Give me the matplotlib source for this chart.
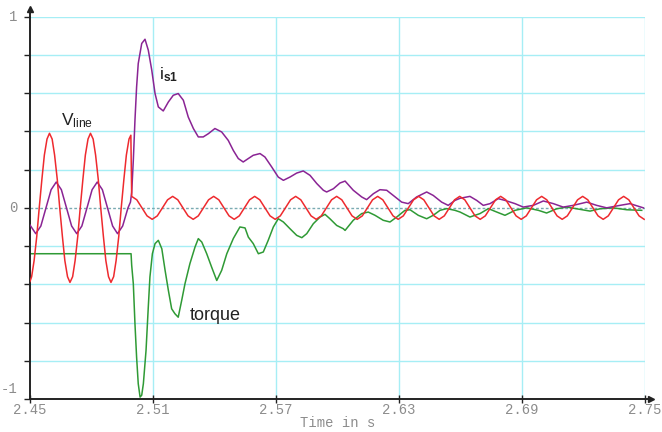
import numpy as np
import matplotlib.pyplot as plt

plt.rcParams['mathtext.fontset'] = 'custom'
plt.rcParams['mathtext.rm'] = 'Liberation Sans'
plt.rcParams['mathtext.it'] = 'Liberation Sans'
plt.rcParams['mathtext.bf'] = 'Liberation Sans:bold'

# line voltage before the fault (s, p.u.)
t_vline_pre = [2.4500, 2.4508, 2.4520, 2.4533, 2.4545, 2.4558, 2.4570, 2.4583, 2.4595,
               2.4608, 2.4620, 2.4633, 2.4645, 2.4658, 2.4670, 2.4683, 2.4695,
               2.4708, 2.4720, 2.4733, 2.4745, 2.4758, 2.4770, 2.4783, 2.4795,
               2.4808, 2.4820, 2.4833, 2.4845, 2.4858, 2.4870, 2.4883, 2.4895,
               2.4908, 2.4920, 2.4933, 2.4945, 2.4958, 2.4970, 2.4983, 2.4992]
v_vline_pre = [-0.385, -0.36, -0.276, -0.149, 0.0, 0.149, 0.276, 0.36, 0.39,
               0.36, 0.276, 0.149, 0.0, -0.149, -0.276, -0.36, -0.39,
               -0.36, -0.276, -0.149, 0.0, 0.149, 0.276, 0.36, 0.39,
               0.36, 0.276, 0.149, 0.0, -0.149, -0.276, -0.36, -0.39,
               -0.36, -0.276, -0.149, 0.0, 0.149, 0.276, 0.36, 0.38]

# line voltage after the fault, read every 2.5 ms from 2.4996 s
v_vline_post = [0.06, 0.042, 0.0, -0.042, -0.06, -0.042, 0.0, 0.042,
                0.06, 0.042, 0.0, -0.042, -0.06, -0.042, 0.0, 0.042,
                0.06, 0.042, 0.0, -0.042, -0.06, -0.042, 0.0, 0.042,
                0.06, 0.042, 0.0, -0.042, -0.06, -0.042, 0.0, 0.042,
                0.06, 0.042, 0.0, -0.042, -0.06, -0.042, 0.0, 0.042,
                0.06, 0.042, 0.0, -0.042, -0.06, -0.042, 0.0, 0.042,
                0.06, 0.042, 0.0, -0.042, -0.06, -0.042, 0.0, 0.042,
                0.06, 0.042, 0.0, -0.042, -0.06, -0.042, 0.0, 0.042,
                0.06, 0.042, 0.0, -0.042, -0.06, -0.042, 0.0, 0.042,
                0.06, 0.042, 0.0, -0.042, -0.06, -0.042, 0.0, 0.042,
                0.06, 0.042, 0.0, -0.042, -0.06, -0.042, 0.0, 0.042,
                0.06, 0.042, 0.0, -0.042, -0.06, -0.042, 0.0, 0.042,
                0.06, 0.042, 0.0, -0.042, -0.06]
t_vline_post = 2.4996 + 0.0025 * np.arange(len(v_vline_post))

# stator current is1
t_is1 = [2.4500, 2.4528, 2.4553, 2.4578, 2.4603, 2.4628, 2.4653, 2.4678, 2.4703, 2.4728,
         2.4753, 2.4778, 2.4803, 2.4828, 2.4853, 2.4878, 2.4903, 2.4927, 2.4952, 2.4978,
         2.4990, 2.4996, 2.5004, 2.5012, 2.5020, 2.5028, 2.5045, 2.5061, 2.5077, 2.5094,
         2.5110, 2.5126, 2.5150, 2.5175, 2.5199, 2.5223, 2.5248, 2.5272, 2.5297, 2.5321,
         2.5345, 2.5370, 2.5402, 2.5435, 2.5467, 2.5492, 2.5516, 2.5540, 2.5565, 2.5589,
         2.5622, 2.5646, 2.5679, 2.5711, 2.5736, 2.5768, 2.5801, 2.5833, 2.5866, 2.5899,
         2.5931, 2.5947, 2.5980, 2.6012, 2.6037, 2.6077, 2.6118, 2.6142, 2.6175, 2.6207,
         2.6240, 2.6272, 2.6313, 2.6345, 2.6386, 2.6435, 2.6467, 2.6508, 2.6540, 2.6573,
         2.6598, 2.6646, 2.6679, 2.6711, 2.6744, 2.6784, 2.6817, 2.6866, 2.6906, 2.6955,
         2.7004, 2.7053, 2.7101, 2.7150, 2.7216, 2.7264, 2.7313, 2.7378, 2.7427, 2.7492]
v_is1 = [-0.09, -0.135, -0.095, 0.0, 0.095, 0.135, 0.095, 0.0, -0.095, -0.135,
         -0.095, 0.0, 0.095, 0.135, 0.095, 0.0, -0.095, -0.135, -0.095, 0.0,
         0.03, 0.08, 0.249, 0.458, 0.632, 0.755, 0.86, 0.882, 0.825, 0.72,
         0.598, 0.528, 0.507, 0.554, 0.589, 0.598, 0.563, 0.475, 0.415, 0.371,
         0.371, 0.388, 0.415, 0.397, 0.353, 0.30, 0.258, 0.24, 0.258, 0.275,
         0.284, 0.266, 0.214, 0.161, 0.144, 0.161, 0.182, 0.193, 0.170, 0.127,
         0.092, 0.083, 0.10, 0.13, 0.14, 0.092, 0.057, 0.043, 0.074, 0.095,
         0.092, 0.065, 0.030, 0.022, 0.057, 0.083, 0.065, 0.03, 0.013, 0.039,
         0.05, 0.06, 0.039, 0.013, 0.022, 0.048, 0.039, 0.022, 0.004, 0.013,
         0.036, 0.022, 0.004, 0.013, 0.03, 0.013, 0.0, 0.013, 0.022, 0.0]

# electromagnetic torque
t_torque = [2.4500, 2.4993, 2.4996, 2.5004, 2.5012, 2.5020, 2.5028, 2.5037, 2.5045, 2.5053,
            2.5066, 2.5077, 2.5085, 2.5097, 2.5110, 2.5126, 2.5143, 2.5159, 2.5175, 2.5191,
            2.5207, 2.5223, 2.5240, 2.5256, 2.5280, 2.5305, 2.5321, 2.5338, 2.5362, 2.5386,
            2.5411, 2.5435, 2.5460, 2.5492, 2.5524, 2.5549, 2.5565, 2.5589, 2.5614, 2.5638,
            2.5662, 2.5687, 2.5711, 2.5736, 2.5768, 2.5801, 2.5826, 2.5850, 2.5882, 2.5915,
            2.5939, 2.5963, 2.5996, 2.6028, 2.6037, 2.6077, 2.6118, 2.6150, 2.6183, 2.6223,
            2.6256, 2.6289, 2.6329, 2.6354, 2.6394, 2.6435, 2.6467, 2.6500, 2.6533, 2.6573,
            2.6598, 2.6646, 2.6695, 2.6736, 2.6777, 2.6817, 2.6866, 2.6923, 2.6980, 2.7020,
            2.7069, 2.7118, 2.7167, 2.7232, 2.7280, 2.7345, 2.7411, 2.7484]
v_torque = [-0.24, -0.24, -0.30, -0.397, -0.606, -0.781, -0.92, -0.99, -0.98, -0.92,
            -0.746, -0.519, -0.362, -0.24, -0.187, -0.17, -0.214, -0.327, -0.432, -0.528,
            -0.554, -0.572, -0.484, -0.397, -0.292, -0.205, -0.161, -0.179, -0.24, -0.31,
            -0.38, -0.327, -0.24, -0.16, -0.10, -0.105, -0.153, -0.187, -0.24, -0.231,
            -0.17, -0.10, -0.057, -0.074, -0.109, -0.144, -0.156, -0.135, -0.083, -0.048,
            -0.034, -0.057, -0.092, -0.109, -0.118, -0.065, -0.03, -0.022, -0.039, -0.065,
            -0.074, -0.048, -0.013, -0.01, -0.039, -0.057, -0.039, -0.013, -0.004, -0.013,
            -0.022, -0.048, -0.03, -0.004, -0.022, -0.039, -0.013, 0.0, -0.013, -0.027,
            -0.005, 0.004, -0.005, -0.017, -0.005, 0.0, -0.01, -0.013]

x_ticks = [2.45, 2.51, 2.57, 2.63, 2.69, 2.75]
x_ticklabels = ['2.45', '2.51', '2.57', '2.63', '2.69', '2.75']
y_labels = {1.0: '1', 0.0: '0', -0.95: '-1'}

mono = 'Liberation Mono'
gray = '#8c8c8c'
grid_c = '#a6eef5'

fig = plt.figure(figsize=(6.62, 4.32), dpi=100)
ax = fig.add_axes([30 / 662, 1 - 399 / 432, 615 / 662, 382.3 / 432])
ax.set_xlim(2.45, 2.75)
ax.set_ylim(-1, 1)

# grid
for y in np.arange(-0.8, 1.01, 0.2):
    if abs(y) < 1e-9:
        continue
    ax.axhline(y, color=grid_c, lw=1.0, zorder=0)
for x in x_ticks[1:]:
    ax.axvline(x, color=grid_c, lw=1.0, zorder=0)
ax.axhline(0, color='#7aaab2', lw=1.0, ls=(0, (2, 1.5)), zorder=0)

# curves
ax.plot(t_torque, v_torque, color='#2f9a35', lw=1.1, zorder=2)
ax.plot(t_is1, v_is1, color='#8a2494', lw=1.1, zorder=3)
t_red = list(t_vline_pre) + list(t_vline_post)
v_red = list(v_vline_pre) + list(v_vline_post)
ax.plot(t_red, v_red, color='#ee2a2e', lw=1.1, zorder=4)

# labels on curves
ax.text(2.4651, 0.432, r'V$_{\mathrm{line}}$', fontsize=12.5, family='Liberation Sans',
        ha='left', va='baseline', color='#222')
ax.text(2.5129, 0.673, r'i$_{\mathbf{s1}}$', fontsize=12.5, family='Liberation Sans',
        ha='left', va='baseline', color='#222')
ax.text(2.5280, -0.563, 'torque', fontsize=13, family='Liberation Sans',
        ha='left', va='center', color='#222')

# axes styling
for s in ['top', 'right']:
    ax.spines[s].set_visible(False)
for s in ['left', 'bottom']:
    ax.spines[s].set_color('#222')
    ax.spines[s].set_linewidth(1.4)
ax.plot([0, 0], [1, 1.02], transform=ax.transAxes, color='#222', lw=1.4, clip_on=False)
ax.plot([1, 1.01], [0, 0], transform=ax.transAxes, color='#222', lw=1.4, clip_on=False)
ax.plot([0], [1.02], marker='^', ms=5, color='#222', transform=ax.transAxes, clip_on=False)
ax.plot([1.01], [0], marker='>', ms=5, color='#222', transform=ax.transAxes, clip_on=False)

ax.set_xticks(x_ticks)
ax.set_xticklabels(x_ticklabels, family=mono, color=gray, fontsize=10)
ax.tick_params(axis='x', direction='inout', length=6, width=1, color='#222', pad=0)
ax.set_yticks(np.arange(-1, 1.01, 0.2))
ax.set_yticklabels([])
ax.tick_params(axis='y', direction='out', length=4, width=1, color='#222')
for y, lab in y_labels.items():
    ax.text(-0.021, y, lab, transform=ax.get_yaxis_transform(), ha='right', va='center',
            family=mono, color=gray, fontsize=10)

ax.set_xlabel('Time in s', family=mono, color=gray, fontsize=10, labelpad=-1)

fig.savefig('out.png', dpi=100)
